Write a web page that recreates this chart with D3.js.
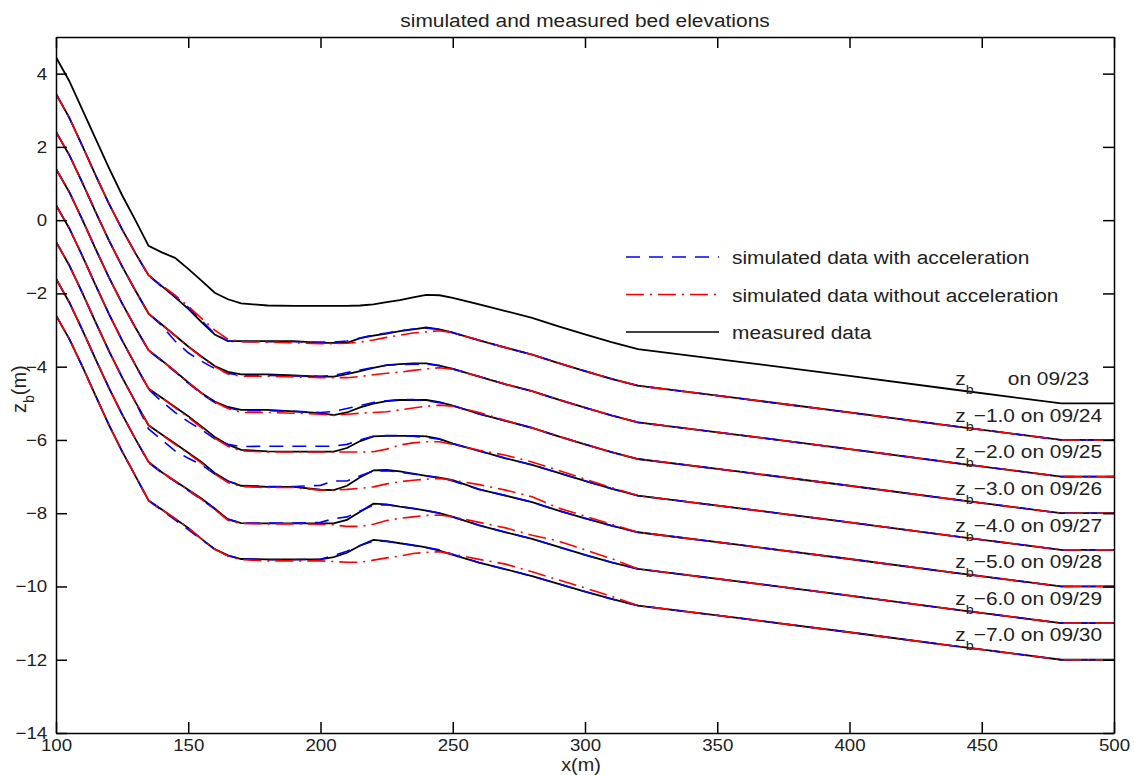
<!DOCTYPE html>
<html>
<head>
<meta charset="utf-8">
<script src="https://cdnjs.cloudflare.com/ajax/libs/d3/7.8.5/d3.min.js"></script>
<style>
body { margin: 0; background: #fff; }
text { font-family: "Liberation Sans", Arial, Helvetica, sans-serif; fill: #222; }
</style>
</head>
<body>
<div id="chart"></div>
<script>
// stations along the channel (m)
var xs = [100,105,110,115,120,125,130,135,140,145,150,155,160,165,170,180,190,200,205,210,
          215,220,225,230,235,240,245,250,260,270,280,290,300,310,320,360,400,440,480,500];

var days   = ["09/23","09/24","09/25","09/26","09/27","09/28","09/29","09/30"];
var shifts = [0, 1, 2, 3, 4, 5, 6, 7];   // plotted as zb - shift
var shiftLabels = ["", "\u22121.0", "\u22122.0", "\u22123.0", "\u22124.0", "\u22125.0", "\u22126.0", "\u22127.0"];

var xTicks = [100,150,200,250,300,350,400,450,500];
var yTicks = [-14,-12,-10,-8,-6,-4,-2,0,2,4];

// measured bed elevation zb (m)
var measured_0923 = [4.45,3.80,3.01,2.22,1.43,0.68,0.00,-0.70,-0.88,-1.03,-1.33,-1.65,-1.98,-2.16,-2.27,-2.33,-2.34,-2.34,-2.34,-2.34,-2.33,-2.30,-2.24,-2.18,-2.11,-2.04,-2.05,-2.12,-2.30,-2.48,-2.67,-2.90,-3.12,-3.33,-3.52,-3.88,-4.25,-4.63,-5.00,-5.00];
var measured_0924 = [4.45,3.80,3.02,2.22,1.45,0.75,0.10,-0.50,-0.80,-1.10,-1.42,-1.78,-2.12,-2.30,-2.30,-2.30,-2.30,-2.35,-2.35,-2.35,-2.22,-2.15,-2.10,-2.03,-1.98,-1.93,-1.98,-2.07,-2.28,-2.48,-2.67,-2.90,-3.12,-3.33,-3.52,-3.88,-4.25,-4.63,-5.00,-5.00];
var measured_0925 = [4.41,3.78,3.02,2.22,1.45,0.74,0.08,-0.55,-0.85,-1.15,-1.45,-1.72,-1.98,-2.14,-2.21,-2.21,-2.24,-2.27,-2.27,-2.20,-2.12,-2.03,-1.96,-1.93,-1.91,-1.91,-1.97,-2.06,-2.27,-2.48,-2.67,-2.90,-3.12,-3.33,-3.52,-3.88,-4.25,-4.63,-5.00,-5.00];
var measured_0926 = [4.40,3.77,3.01,2.21,1.44,0.73,0.07,-0.55,-0.83,-1.12,-1.43,-1.72,-1.95,-2.10,-2.18,-2.18,-2.22,-2.27,-2.32,-2.25,-2.11,-2.01,-1.94,-1.91,-1.91,-1.91,-1.97,-2.06,-2.29,-2.48,-2.67,-2.90,-3.12,-3.33,-3.52,-3.88,-4.25,-4.63,-5.00,-5.00];
var measured_0927 = [4.41,3.78,3.02,2.22,1.44,0.72,0.05,-0.60,-0.85,-1.10,-1.35,-1.63,-1.92,-2.13,-2.27,-2.31,-2.32,-2.32,-2.32,-2.22,-2.03,-1.90,-1.89,-1.89,-1.89,-1.90,-1.97,-2.10,-2.30,-2.50,-2.68,-2.90,-3.12,-3.33,-3.52,-3.88,-4.25,-4.63,-5.00,-5.00];
var measured_0928 = [4.41,3.77,3.01,2.21,1.43,0.71,0.04,-0.60,-0.85,-1.10,-1.35,-1.60,-1.90,-2.12,-2.25,-2.28,-2.28,-2.36,-2.37,-2.25,-2.02,-1.83,-1.82,-1.86,-1.92,-1.98,-2.03,-2.10,-2.35,-2.52,-2.70,-2.93,-3.14,-3.34,-3.52,-3.88,-4.25,-4.63,-5.00,-5.00];
var measured_0929 = [4.40,3.76,3.00,2.20,1.42,0.70,0.03,-0.60,-0.88,-1.12,-1.36,-1.60,-1.87,-2.17,-2.27,-2.28,-2.28,-2.28,-2.28,-2.18,-1.96,-1.74,-1.76,-1.82,-1.87,-1.93,-2.00,-2.10,-2.33,-2.52,-2.70,-2.92,-3.14,-3.34,-3.52,-3.88,-4.25,-4.63,-5.00,-5.00];
var measured_0930 = [4.40,3.76,3.00,2.20,1.41,0.69,0.02,-0.65,-0.90,-1.15,-1.40,-1.70,-1.98,-2.15,-2.25,-2.26,-2.26,-2.26,-2.20,-2.08,-1.88,-1.73,-1.76,-1.82,-1.87,-1.93,-2.02,-2.14,-2.35,-2.53,-2.72,-2.93,-3.14,-3.34,-3.52,-3.88,-4.25,-4.63,-5.00,-5.00];

// simulated with acceleration
var withAcc_0924 = [4.45,3.80,3.02,2.22,1.45,0.75,0.10,-0.52,-0.82,-1.08,-1.38,-1.74,-2.10,-2.30,-2.32,-2.32,-2.32,-2.33,-2.33,-2.30,-2.22,-2.13,-2.08,-2.02,-1.97,-1.95,-1.98,-2.07,-2.28,-2.48,-2.67,-2.90,-3.12,-3.33,-3.52,-3.88,-4.25,-4.63,-5.00,-5.00];
var withAcc_0925 = [4.41,3.78,3.02,2.22,1.45,0.74,0.08,-0.55,-0.88,-1.30,-1.62,-1.85,-2.05,-2.18,-2.24,-2.24,-2.25,-2.26,-2.24,-2.16,-2.09,-2.02,-1.96,-1.94,-1.93,-1.93,-1.97,-2.06,-2.27,-2.48,-2.67,-2.90,-3.12,-3.33,-3.52,-3.88,-4.25,-4.63,-5.00,-5.00];
var withAcc_0926 = [4.40,3.77,3.01,2.21,1.44,0.73,0.07,-0.56,-0.85,-1.14,-1.45,-1.74,-1.98,-2.12,-2.20,-2.20,-2.22,-2.25,-2.22,-2.14,-2.06,-1.98,-1.93,-1.90,-1.90,-1.93,-1.98,-2.07,-2.29,-2.48,-2.67,-2.90,-3.12,-3.33,-3.52,-3.88,-4.25,-4.63,-5.00,-5.00];
var withAcc_0927 = [4.41,3.78,3.02,2.22,1.44,0.72,0.05,-0.62,-0.95,-1.25,-1.50,-1.72,-1.97,-2.12,-2.18,-2.17,-2.17,-2.17,-2.17,-2.12,-2.00,-1.90,-1.88,-1.88,-1.90,-1.93,-1.98,-2.10,-2.30,-2.50,-2.68,-2.90,-3.12,-3.33,-3.52,-3.88,-4.25,-4.63,-5.00,-5.00];
var withAcc_0928 = [4.41,3.77,3.01,2.21,1.43,0.71,0.04,-0.70,-1.00,-1.30,-1.50,-1.68,-1.93,-2.13,-2.24,-2.27,-2.27,-2.24,-2.12,-2.12,-1.98,-1.85,-1.84,-1.88,-1.93,-1.98,-2.04,-2.12,-2.35,-2.52,-2.70,-2.93,-3.14,-3.34,-3.52,-3.88,-4.25,-4.63,-5.00,-5.00];
var withAcc_0929 = [4.40,3.76,3.00,2.20,1.42,0.70,0.03,-0.62,-0.90,-1.14,-1.38,-1.63,-1.88,-2.16,-2.27,-2.27,-2.27,-2.25,-2.15,-2.10,-1.94,-1.78,-1.77,-1.82,-1.87,-1.93,-2.00,-2.10,-2.33,-2.52,-2.70,-2.92,-3.14,-3.34,-3.52,-3.88,-4.25,-4.63,-5.00,-5.00];
var withAcc_0930 = [4.40,3.76,3.00,2.20,1.41,0.69,0.02,-0.66,-0.92,-1.18,-1.45,-1.72,-1.98,-2.16,-2.25,-2.27,-2.27,-2.26,-2.15,-2.04,-1.88,-1.76,-1.77,-1.82,-1.88,-1.94,-2.00,-2.12,-2.35,-2.53,-2.72,-2.93,-3.14,-3.34,-3.52,-3.88,-4.25,-4.63,-5.00,-5.00];

// simulated without acceleration
var withoutAcc_0924 = [4.45,3.80,3.02,2.22,1.45,0.75,0.10,-0.50,-0.78,-1.05,-1.35,-1.68,-2.00,-2.25,-2.32,-2.33,-2.35,-2.37,-2.37,-2.36,-2.33,-2.27,-2.20,-2.14,-2.08,-2.05,-2.02,-2.07,-2.28,-2.48,-2.67,-2.90,-3.12,-3.33,-3.52,-3.88,-4.25,-4.63,-5.00,-5.00];
var withoutAcc_0925 = [4.41,3.78,3.02,2.22,1.45,0.74,0.08,-0.55,-0.85,-1.15,-1.45,-1.74,-2.00,-2.20,-2.26,-2.26,-2.28,-2.30,-2.30,-2.30,-2.27,-2.22,-2.18,-2.15,-2.10,-2.06,-2.03,-2.07,-2.27,-2.48,-2.67,-2.90,-3.12,-3.33,-3.52,-3.88,-4.25,-4.63,-5.00,-5.00];
var withoutAcc_0926 = [4.40,3.77,3.01,2.21,1.44,0.73,0.07,-0.55,-0.83,-1.12,-1.43,-1.72,-1.96,-2.14,-2.25,-2.25,-2.27,-2.30,-2.33,-2.30,-2.27,-2.25,-2.23,-2.18,-2.13,-2.08,-2.05,-2.08,-2.25,-2.47,-2.67,-2.90,-3.12,-3.33,-3.52,-3.88,-4.25,-4.63,-5.00,-5.00];
var withoutAcc_0927 = [4.41,3.78,3.02,2.22,1.44,0.72,0.05,-0.60,-0.85,-1.12,-1.38,-1.66,-1.95,-2.17,-2.30,-2.33,-2.33,-2.33,-2.33,-2.33,-2.33,-2.32,-2.25,-2.14,-2.08,-2.05,-2.05,-2.12,-2.28,-2.42,-2.60,-2.83,-3.07,-3.30,-3.52,-3.88,-4.25,-4.63,-5.00,-5.00];
var withoutAcc_0928 = [4.41,3.77,3.01,2.21,1.43,0.71,0.04,-0.60,-0.86,-1.12,-1.37,-1.63,-1.93,-2.16,-2.27,-2.30,-2.30,-2.37,-2.37,-2.35,-2.32,-2.28,-2.20,-2.14,-2.10,-2.07,-2.05,-2.10,-2.22,-2.37,-2.55,-2.86,-3.08,-3.30,-3.52,-3.88,-4.25,-4.63,-5.00,-5.00];
var withoutAcc_0929 = [4.40,3.76,3.00,2.20,1.42,0.70,0.03,-0.60,-0.88,-1.12,-1.36,-1.62,-1.90,-2.19,-2.28,-2.29,-2.29,-2.30,-2.32,-2.36,-2.36,-2.30,-2.20,-2.14,-2.10,-2.06,-2.05,-2.10,-2.25,-2.40,-2.60,-2.76,-3.00,-3.24,-3.52,-3.88,-4.25,-4.63,-5.00,-5.00];
var withoutAcc_0930 = [4.40,3.76,3.00,2.20,1.41,0.69,0.02,-0.65,-0.90,-1.14,-1.40,-1.70,-1.98,-2.17,-2.27,-2.30,-2.30,-2.30,-2.32,-2.34,-2.34,-2.28,-2.22,-2.17,-2.10,-2.07,-2.05,-2.12,-2.26,-2.39,-2.60,-2.82,-3.04,-3.27,-3.52,-3.88,-4.25,-4.63,-5.00,-5.00];

var measured   = [measured_0923, measured_0924, measured_0925, measured_0926, measured_0927, measured_0928, measured_0929, measured_0930];
var withAcc    = [null, withAcc_0924, withAcc_0925, withAcc_0926, withAcc_0927, withAcc_0928, withAcc_0929, withAcc_0930];
var withoutAcc = [null, withoutAcc_0924, withoutAcc_0925, withoutAcc_0926, withoutAcc_0927, withoutAcc_0928, withoutAcc_0929, withoutAcc_0930];

var opts = {
    width: 1134,
    height: 775,
    left: 56, right: 1114, top: 37, bottom: 733,
    stretch: 1.1
};

bedChart("#chart", opts);

function bedChart(containerID, o) {
    var svg = d3.select(containerID).append("svg")
        .attr("width", o.width)
        .attr("height", o.height)
        .style("display", "block");

    var x = d3.scaleLinear().domain([100, 500]).range([o.left, o.right]);
    var y = d3.scaleLinear().domain([-14, 5]).range([o.bottom, o.top]);

    svg.append("clipPath").attr("id", "plotclip")
        .append("rect")
        .attr("x", o.left).attr("y", o.top)
        .attr("width", o.right - o.left).attr("height", o.bottom - o.top);

    var plot = svg.append("g").attr("clip-path", "url(#plotclip)");

    function profile(vals, shift) {
        return d3.line()
            .x(function(d, i) { return x(xs[i]); })
            .y(function(d) { return y(d - shift); })(vals);
    }

    // measured first, simulated drawn over it
    measured.forEach(function(vals, k) {
        plot.append("path")
            .attr("d", profile(vals, shifts[k]))
            .attr("fill", "none").attr("stroke", "#000").attr("stroke-width", 1.8);
    });
    withAcc.forEach(function(vals, k) {
        if (!vals) return;
        plot.append("path")
            .attr("d", profile(vals, shifts[k]))
            .attr("fill", "none").attr("stroke", "#0000ff").attr("stroke-width", 1.6)
            .attr("stroke-dasharray", "14,9");
    });
    withoutAcc.forEach(function(vals, k) {
        if (!vals) return;
        plot.append("path")
            .attr("d", profile(vals, shifts[k]))
            .attr("fill", "none").attr("stroke", "#ff0000").attr("stroke-width", 1.6)
            .attr("stroke-dasharray", "18,6,2,6");
    });

    // axes: ticks inward on all four sides
    var fmt = function(d) { return d3.format("")(d); };
    var gx = svg.append("g").attr("transform", "translate(0," + o.bottom + ")")
        .call(d3.axisBottom(x).tickValues(xTicks).tickFormat(fmt).tickSize(-11).tickSizeOuter(0).tickPadding(6));
    svg.append("g").attr("transform", "translate(0," + o.top + ")")
        .call(d3.axisTop(x).tickValues(xTicks).tickFormat("").tickSize(-11).tickSizeOuter(0));
    var gy = svg.append("g").attr("transform", "translate(" + o.left + ",0)")
        .call(d3.axisLeft(y).tickValues(yTicks).tickFormat(fmt).tickSize(-11).tickSizeOuter(0).tickPadding(8));
    svg.append("g").attr("transform", "translate(" + o.right + ",0)")
        .call(d3.axisRight(y).tickValues(yTicks).tickFormat("").tickSize(-11).tickSizeOuter(0));

    svg.selectAll(".domain").attr("stroke", "#000").attr("stroke-width", 1.5);
    svg.selectAll(".tick line").attr("stroke", "#000").attr("stroke-width", 1.5);
    svg.selectAll(".tick text")
        .style("font-size", "17px")
        .style("font-family", "'Liberation Sans', Arial, sans-serif")
        .attr("fill", "#222");
    gx.selectAll(".tick text").attr("transform", "scale(" + o.stretch + ",1)");
    gy.selectAll(".tick text").attr("transform", "scale(" + o.stretch + ",1)");

    // title and axis labels
    stretchedText(svg, (o.left + o.right) / 2, 27, "middle", 19)
        .text("simulated and measured bed elevations");
    stretchedText(svg, 581, 771, "middle", 18).text("x(m)");

    var yl = svg.append("text")
        .attr("transform", "translate(26,413) rotate(-90)")
        .style("font-size", "20px");
    yl.append("tspan").text("z");
    yl.append("tspan").attr("dy", 8).style("font-size", "14px").text("b");
    yl.append("tspan").attr("dy", -8).text("(m)");

    // legend
    var legendItems = [
        { label: "simulated data with acceleration",    color: "#0000ff", dash: "14,9" },
        { label: "simulated data without acceleration", color: "#ff0000", dash: "18,6,2,6" },
        { label: "measured data",                        color: "#000",    dash: null }
    ];
    legendItems.forEach(function(it, i) {
        var ly = 257 + i * 37.5;
        svg.append("line")
            .attr("x1", 626).attr("x2", 719).attr("y1", ly).attr("y2", ly)
            .attr("stroke", it.color).attr("stroke-width", 1.6)
            .attr("stroke-dasharray", it.dash);
        stretchedText(svg, 732, ly + 7, "start", 19).text(it.label);
    });

    // right hand labels "zb -k on date"
    days.forEach(function(day, k) {
        var t = stretchedText(svg, x(440), y(-4.5 - shifts[k]), "start", 19);
        t.append("tspan").text("z");
        t.append("tspan").attr("dy", 9).style("font-size", "13px").text("b");
        if (shifts[k] === 0) {
            t.append("tspan").attr("dy", -9).attr("dx", 31).text("on " + day);
        } else {
            t.append("tspan").attr("dy", -9).text(shiftLabels[k] + " on " + day);
        }
    });
}

function stretchedText(sel, px, py, anchor, size) {
    return sel.append("text")
        .attr("transform", "translate(" + px + "," + py + ") scale(" + opts.stretch + ",1)")
        .attr("text-anchor", anchor)
        .style("font-size", size + "px");
}
</script>
</body>
</html>
